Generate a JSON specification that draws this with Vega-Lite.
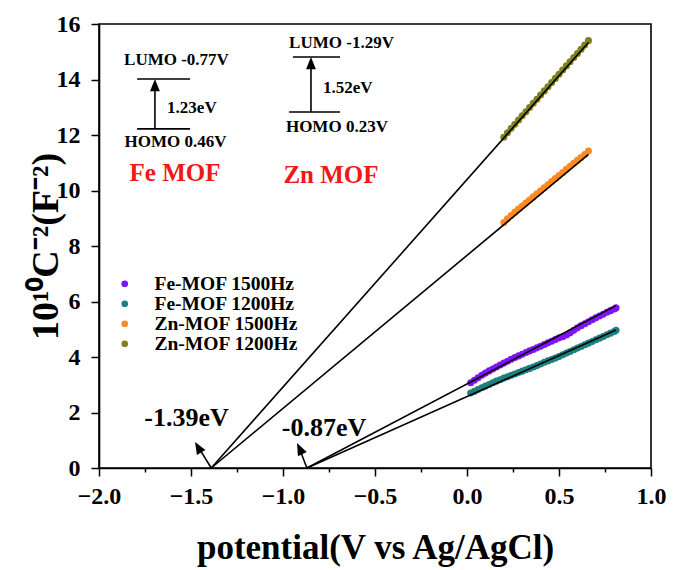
{
  "$schema": "https://vega.github.io/schema/vega-lite/v6.json",
  "width": 552,
  "height": 444,
  "autosize": "none",
  "padding": {"left": 99, "top": 24, "right": 23, "bottom": 102},
  "background": "white",
  "config": {
    "view": {"stroke": "black", "strokeWidth": 1.6},
    "font": "Liberation Serif"
  },
  "datasets": {
    "pts": [
      {"s": "Fe-MOF 1500Hz", "x": 0.02, "y": 3.07}, {"s": "Fe-MOF 1500Hz", "x": 0.04, "y": 3.16}, {"s": "Fe-MOF 1500Hz", "x": 0.06, "y": 3.25}, {"s": "Fe-MOF 1500Hz", "x": 0.08, "y": 3.34}, {"s": "Fe-MOF 1500Hz", "x": 0.10, "y": 3.42},
      {"s": "Fe-MOF 1500Hz", "x": 0.12, "y": 3.50}, {"s": "Fe-MOF 1500Hz", "x": 0.14, "y": 3.57}, {"s": "Fe-MOF 1500Hz", "x": 0.16, "y": 3.64}, {"s": "Fe-MOF 1500Hz", "x": 0.18, "y": 3.71}, {"s": "Fe-MOF 1500Hz", "x": 0.20, "y": 3.78},
      {"s": "Fe-MOF 1500Hz", "x": 0.22, "y": 3.85}, {"s": "Fe-MOF 1500Hz", "x": 0.24, "y": 3.92}, {"s": "Fe-MOF 1500Hz", "x": 0.26, "y": 3.98}, {"s": "Fe-MOF 1500Hz", "x": 0.28, "y": 4.04}, {"s": "Fe-MOF 1500Hz", "x": 0.30, "y": 4.10},
      {"s": "Fe-MOF 1500Hz", "x": 0.32, "y": 4.16}, {"s": "Fe-MOF 1500Hz", "x": 0.34, "y": 4.22}, {"s": "Fe-MOF 1500Hz", "x": 0.36, "y": 4.27}, {"s": "Fe-MOF 1500Hz", "x": 0.38, "y": 4.33}, {"s": "Fe-MOF 1500Hz", "x": 0.40, "y": 4.39},
      {"s": "Fe-MOF 1500Hz", "x": 0.42, "y": 4.45}, {"s": "Fe-MOF 1500Hz", "x": 0.44, "y": 4.51}, {"s": "Fe-MOF 1500Hz", "x": 0.46, "y": 4.57}, {"s": "Fe-MOF 1500Hz", "x": 0.48, "y": 4.63}, {"s": "Fe-MOF 1500Hz", "x": 0.50, "y": 4.69},
      {"s": "Fe-MOF 1500Hz", "x": 0.52, "y": 4.73}, {"s": "Fe-MOF 1500Hz", "x": 0.54, "y": 4.79}, {"s": "Fe-MOF 1500Hz", "x": 0.56, "y": 4.87}, {"s": "Fe-MOF 1500Hz", "x": 0.58, "y": 4.96}, {"s": "Fe-MOF 1500Hz", "x": 0.60, "y": 5.05},
      {"s": "Fe-MOF 1500Hz", "x": 0.62, "y": 5.13}, {"s": "Fe-MOF 1500Hz", "x": 0.64, "y": 5.20}, {"s": "Fe-MOF 1500Hz", "x": 0.66, "y": 5.27}, {"s": "Fe-MOF 1500Hz", "x": 0.68, "y": 5.34}, {"s": "Fe-MOF 1500Hz", "x": 0.70, "y": 5.41},
      {"s": "Fe-MOF 1500Hz", "x": 0.72, "y": 5.48}, {"s": "Fe-MOF 1500Hz", "x": 0.74, "y": 5.54}, {"s": "Fe-MOF 1500Hz", "x": 0.76, "y": 5.61}, {"s": "Fe-MOF 1500Hz", "x": 0.78, "y": 5.67}, {"s": "Fe-MOF 1500Hz", "x": 0.80, "y": 5.73}, {"s": "Fe-MOF 1500Hz", "x": 0.81, "y": 5.77},

      {"s": "Fe-MOF 1200Hz", "x": 0.02, "y": 2.70}, {"s": "Fe-MOF 1200Hz", "x": 0.04, "y": 2.76}, {"s": "Fe-MOF 1200Hz", "x": 0.06, "y": 2.83}, {"s": "Fe-MOF 1200Hz", "x": 0.08, "y": 2.89}, {"s": "Fe-MOF 1200Hz", "x": 0.10, "y": 2.95},
      {"s": "Fe-MOF 1200Hz", "x": 0.12, "y": 3.01}, {"s": "Fe-MOF 1200Hz", "x": 0.14, "y": 3.07}, {"s": "Fe-MOF 1200Hz", "x": 0.16, "y": 3.13}, {"s": "Fe-MOF 1200Hz", "x": 0.18, "y": 3.18}, {"s": "Fe-MOF 1200Hz", "x": 0.20, "y": 3.24},
      {"s": "Fe-MOF 1200Hz", "x": 0.22, "y": 3.29}, {"s": "Fe-MOF 1200Hz", "x": 0.24, "y": 3.34}, {"s": "Fe-MOF 1200Hz", "x": 0.26, "y": 3.39}, {"s": "Fe-MOF 1200Hz", "x": 0.28, "y": 3.44}, {"s": "Fe-MOF 1200Hz", "x": 0.30, "y": 3.49},
      {"s": "Fe-MOF 1200Hz", "x": 0.32, "y": 3.54}, {"s": "Fe-MOF 1200Hz", "x": 0.34, "y": 3.59}, {"s": "Fe-MOF 1200Hz", "x": 0.36, "y": 3.64}, {"s": "Fe-MOF 1200Hz", "x": 0.38, "y": 3.69}, {"s": "Fe-MOF 1200Hz", "x": 0.40, "y": 3.75},
      {"s": "Fe-MOF 1200Hz", "x": 0.42, "y": 3.81}, {"s": "Fe-MOF 1200Hz", "x": 0.44, "y": 3.86}, {"s": "Fe-MOF 1200Hz", "x": 0.46, "y": 3.91}, {"s": "Fe-MOF 1200Hz", "x": 0.48, "y": 3.96}, {"s": "Fe-MOF 1200Hz", "x": 0.50, "y": 4.02},
      {"s": "Fe-MOF 1200Hz", "x": 0.52, "y": 4.08}, {"s": "Fe-MOF 1200Hz", "x": 0.54, "y": 4.14}, {"s": "Fe-MOF 1200Hz", "x": 0.56, "y": 4.20}, {"s": "Fe-MOF 1200Hz", "x": 0.58, "y": 4.26}, {"s": "Fe-MOF 1200Hz", "x": 0.60, "y": 4.32},
      {"s": "Fe-MOF 1200Hz", "x": 0.62, "y": 4.38}, {"s": "Fe-MOF 1200Hz", "x": 0.64, "y": 4.44}, {"s": "Fe-MOF 1200Hz", "x": 0.66, "y": 4.50}, {"s": "Fe-MOF 1200Hz", "x": 0.68, "y": 4.56}, {"s": "Fe-MOF 1200Hz", "x": 0.70, "y": 4.62},
      {"s": "Fe-MOF 1200Hz", "x": 0.72, "y": 4.68}, {"s": "Fe-MOF 1200Hz", "x": 0.74, "y": 4.74}, {"s": "Fe-MOF 1200Hz", "x": 0.76, "y": 4.80}, {"s": "Fe-MOF 1200Hz", "x": 0.78, "y": 4.86}, {"s": "Fe-MOF 1200Hz", "x": 0.80, "y": 4.92}, {"s": "Fe-MOF 1200Hz", "x": 0.81, "y": 4.96},

      {"s": "Zn-MOF 1500Hz", "x": 0.20, "y": 8.85}, {"s": "Zn-MOF 1500Hz", "x": 0.22, "y": 8.98}, {"s": "Zn-MOF 1500Hz", "x": 0.24, "y": 9.10}, {"s": "Zn-MOF 1500Hz", "x": 0.26, "y": 9.22}, {"s": "Zn-MOF 1500Hz", "x": 0.28, "y": 9.33},
      {"s": "Zn-MOF 1500Hz", "x": 0.30, "y": 9.44}, {"s": "Zn-MOF 1500Hz", "x": 0.32, "y": 9.55}, {"s": "Zn-MOF 1500Hz", "x": 0.34, "y": 9.66}, {"s": "Zn-MOF 1500Hz", "x": 0.36, "y": 9.77}, {"s": "Zn-MOF 1500Hz", "x": 0.38, "y": 9.88},
      {"s": "Zn-MOF 1500Hz", "x": 0.40, "y": 9.99}, {"s": "Zn-MOF 1500Hz", "x": 0.42, "y": 10.10}, {"s": "Zn-MOF 1500Hz", "x": 0.44, "y": 10.21}, {"s": "Zn-MOF 1500Hz", "x": 0.46, "y": 10.32}, {"s": "Zn-MOF 1500Hz", "x": 0.48, "y": 10.43},
      {"s": "Zn-MOF 1500Hz", "x": 0.50, "y": 10.54}, {"s": "Zn-MOF 1500Hz", "x": 0.52, "y": 10.65}, {"s": "Zn-MOF 1500Hz", "x": 0.54, "y": 10.76}, {"s": "Zn-MOF 1500Hz", "x": 0.56, "y": 10.87}, {"s": "Zn-MOF 1500Hz", "x": 0.58, "y": 10.98},
      {"s": "Zn-MOF 1500Hz", "x": 0.60, "y": 11.09}, {"s": "Zn-MOF 1500Hz", "x": 0.62, "y": 11.19}, {"s": "Zn-MOF 1500Hz", "x": 0.64, "y": 11.30}, {"s": "Zn-MOF 1500Hz", "x": 0.66, "y": 11.42},

      {"s": "Zn-MOF 1200Hz", "x": 0.20, "y": 11.92}, {"s": "Zn-MOF 1200Hz", "x": 0.22, "y": 12.08}, {"s": "Zn-MOF 1200Hz", "x": 0.24, "y": 12.24}, {"s": "Zn-MOF 1200Hz", "x": 0.26, "y": 12.39}, {"s": "Zn-MOF 1200Hz", "x": 0.28, "y": 12.54},
      {"s": "Zn-MOF 1200Hz", "x": 0.30, "y": 12.69}, {"s": "Zn-MOF 1200Hz", "x": 0.32, "y": 12.84}, {"s": "Zn-MOF 1200Hz", "x": 0.34, "y": 12.99}, {"s": "Zn-MOF 1200Hz", "x": 0.36, "y": 13.14}, {"s": "Zn-MOF 1200Hz", "x": 0.38, "y": 13.29},
      {"s": "Zn-MOF 1200Hz", "x": 0.40, "y": 13.44}, {"s": "Zn-MOF 1200Hz", "x": 0.42, "y": 13.59}, {"s": "Zn-MOF 1200Hz", "x": 0.44, "y": 13.74}, {"s": "Zn-MOF 1200Hz", "x": 0.46, "y": 13.89}, {"s": "Zn-MOF 1200Hz", "x": 0.48, "y": 14.04},
      {"s": "Zn-MOF 1200Hz", "x": 0.50, "y": 14.19}, {"s": "Zn-MOF 1200Hz", "x": 0.52, "y": 14.34}, {"s": "Zn-MOF 1200Hz", "x": 0.54, "y": 14.49}, {"s": "Zn-MOF 1200Hz", "x": 0.56, "y": 14.64}, {"s": "Zn-MOF 1200Hz", "x": 0.58, "y": 14.79},
      {"s": "Zn-MOF 1200Hz", "x": 0.60, "y": 14.94}, {"s": "Zn-MOF 1200Hz", "x": 0.62, "y": 15.09}, {"s": "Zn-MOF 1200Hz", "x": 0.64, "y": 15.24}, {"s": "Zn-MOF 1200Hz", "x": 0.66, "y": 15.40}
    ],
    "segs": [
      {"name": "fit Zn 1200", "x": -1.39, "y": 0, "x2": 0.66, "y2": 15.33},
      {"name": "fit Zn 1500", "x": -1.39, "y": 0, "x2": 0.66, "y2": 11.30},
      {"name": "fit Fe 1500", "x": -0.87, "y": 0, "x2": 0.81, "y2": 5.85},
      {"name": "fit Fe 1200", "x": -0.87, "y": 0, "x2": 0.81, "y2": 4.97},
      {"name": "Fe LUMO", "x": -1.793, "y": 14.02, "x2": -1.505, "y2": 14.02},
      {"name": "Fe HOMO", "x": -1.793, "y": 12.22, "x2": -1.505, "y2": 12.22},
      {"name": "Fe gap", "x": -1.696, "y": 12.22, "x2": -1.696, "y2": 13.7},
      {"name": "Zn LUMO", "x": -0.946, "y": 14.81, "x2": -0.69, "y2": 14.81},
      {"name": "Zn HOMO", "x": -0.967, "y": 12.83, "x2": -0.69, "y2": 12.83},
      {"name": "Zn gap", "x": -0.848, "y": 12.83, "x2": -0.848, "y2": 14.5},
      {"name": "Zn edge", "x": -1.39, "y": 0, "x2": -1.46, "y2": 0.75},
      {"name": "Fe edge", "x": -0.87, "y": 0, "x2": -0.912, "y2": 0.72}
    ],
    "heads": [
      {"name": "Fe gap", "x": -1.696, "y": 14.02},
      {"name": "Zn gap", "x": -0.848, "y": 14.81},
      {"name": "Zn edge", "x": -1.478, "y": 0.94},
      {"name": "Fe edge", "x": -0.924, "y": 0.90}
    ],
    "texts": [
      {"group": "level", "text": "LUMO -0.77V", "x": -1.579, "y": 14.70},
      {"group": "level", "text": "HOMO 0.46V", "x": -1.584, "y": 11.75},
      {"group": "level", "text": "LUMO -1.29V", "x": -0.682, "y": 15.32},
      {"group": "level", "text": "HOMO 0.23V", "x": -0.707, "y": 12.29},
      {"group": "gap", "text": "1.23eV", "x": -1.63, "y": 12.97},
      {"group": "gap", "text": "1.52eV", "x": -0.783, "y": 13.69},
      {"group": "mof", "text": "Fe MOF", "x": -1.587, "y": 10.63},
      {"group": "mof", "text": "Zn MOF", "x": -0.739, "y": 10.56},
      {"group": "edge", "text": "-1.39eV", "x": -1.524, "y": 1.80},
      {"group": "edge", "text": "-0.87eV", "x": -0.777, "y": 1.44}
    ]
  },
  "layer": [
    {
      "data": {"name": "pts"},
      "mark": {"type": "point", "filled": true, "opacity": 1, "size": 50},
      "encoding": {
        "x": {
          "field": "x", "type": "quantitative",
          "scale": {"domain": [-2, 1], "nice": false, "zero": false},
          "axis": {
            "title": "potential(V vs Ag/AgCl)",
            "grid": false,
            "domainColor": "black", "domainWidth": 1.6,
            "tickColor": "black", "tickWidth": 1.5,
            "labelFont": "Liberation Serif", "labelFontWeight": "bold", "labelFontSize": 24, "labelColor": "black",
            "labelOverlap": false, "labelFlush": false,
            "titleFont": "Liberation Serif", "titleFontWeight": "bold", "titleFontSize": 35, "titleColor": "black",
            "values": [-2, -1.75, -1.5, -1.25, -1, -0.75, -0.5, -0.25, 0, 0.25, 0.5, 0.75, 1],
            "format": ".1f",
            "labelExpr": "abs(datum.value*2 - round(datum.value*2)) < 0.001 ? datum.label : ''",
            "tickSize": {"condition": {"test": "abs(datum.value*2 - round(datum.value*2)) < 0.001", "value": 8}, "value": 4},
            "labelPadding": 8,
            "titlePadding": 22
          }
        },
        "y": {
          "field": "y", "type": "quantitative",
          "scale": {"domain": [0, 16], "nice": false, "zero": false},
          "axis": {
            "title": "10¹⁰C⁻²(F⁻²)",
            "grid": false,
            "domainColor": "black", "domainWidth": 1.6,
            "tickColor": "black", "tickWidth": 1.5,
            "labelFont": "Liberation Serif", "labelFontWeight": "bold", "labelFontSize": 24, "labelColor": "black",
            "labelOverlap": false, "labelFlush": false,
            "titleFont": "Liberation Serif", "titleFontWeight": "bold", "titleFontSize": 38, "titleColor": "black",
            "values": [0, 1, 2, 3, 4, 5, 6, 7, 8, 9, 10, 11, 12, 13, 14, 15, 16],
            "format": "d",
            "labelExpr": "datum.value % 2 == 0 ? datum.label : ''",
            "tickSize": {"condition": {"test": "datum.value % 2 == 0", "value": 8}, "value": 4},
            "labelPadding": 11,
            "titlePadding": -9
          }
        },
        "color": {
          "field": "s", "type": "nominal",
          "scale": {
            "domain": ["Fe-MOF 1500Hz", "Fe-MOF 1200Hz", "Zn-MOF 1500Hz", "Zn-MOF 1200Hz"],
            "range": ["#7F14F5", "#1C8080", "#FF8A20", "#80801E"]
          },
          "legend": {
            "title": null, "orient": "none", "legendX": 16, "legendY": 250,
            "labelOffset": 20, "padding": 0, "rowPadding": -1,
            "labelFont": "Liberation Serif", "labelFontWeight": "bold", "labelFontSize": 19.5, "labelColor": "black",
            "symbolType": "circle", "symbolSize": 45, "symbolStrokeWidth": 0
          }
        }
      }
    },
    {
      "data": {"name": "segs"},
      "mark": {"type": "rule", "color": "black", "strokeWidth": 1.6},
      "encoding": {
        "x": {"field": "x", "type": "quantitative"},
        "y": {"field": "y", "type": "quantitative"},
        "x2": {"field": "x2"},
        "y2": {"field": "y2"}
      }
    },
    {
      "data": {"name": "heads"},
      "transform": [{"filter": "datum.name == 'Fe gap' || datum.name == 'Zn gap'"}],
      "mark": {"type": "point", "shape": "M0,0L-0.4,1L0.4,1Z", "filled": true, "color": "black", "opacity": 1, "size": 600, "angle": 0},
      "encoding": {
        "x": {"field": "x", "type": "quantitative"},
        "y": {"field": "y", "type": "quantitative"}
      }
    },
    {
      "data": {"name": "heads"},
      "transform": [{"filter": "datum.name == 'Zn edge'"}],
      "mark": {"type": "point", "shape": "M0,0L-0.4,1L0.4,1Z", "filled": true, "color": "black", "opacity": 1, "size": 600, "angle": -30},
      "encoding": {
        "x": {"field": "x", "type": "quantitative"},
        "y": {"field": "y", "type": "quantitative"}
      }
    },
    {
      "data": {"name": "heads"},
      "transform": [{"filter": "datum.name == 'Fe edge'"}],
      "mark": {"type": "point", "shape": "M0,0L-0.4,1L0.4,1Z", "filled": true, "color": "black", "opacity": 1, "size": 600, "angle": -26},
      "encoding": {
        "x": {"field": "x", "type": "quantitative"},
        "y": {"field": "y", "type": "quantitative"}
      }
    },
    {
      "data": {"name": "texts"},
      "transform": [{"filter": "datum.group == 'level'"}],
      "mark": {"type": "text", "font": "Liberation Serif", "fontWeight": "bold", "fontSize": 17, "color": "black", "align": "center", "baseline": "middle"},
      "encoding": {
        "x": {"field": "x", "type": "quantitative"},
        "y": {"field": "y", "type": "quantitative"},
        "text": {"field": "text"}
      }
    },
    {
      "data": {"name": "texts"},
      "transform": [{"filter": "datum.group == 'gap'"}],
      "mark": {"type": "text", "font": "Liberation Serif", "fontWeight": "bold", "fontSize": 17, "color": "black", "align": "left", "baseline": "middle"},
      "encoding": {
        "x": {"field": "x", "type": "quantitative"},
        "y": {"field": "y", "type": "quantitative"},
        "text": {"field": "text"}
      }
    },
    {
      "data": {"name": "texts"},
      "transform": [{"filter": "datum.group == 'mof'"}],
      "mark": {"type": "text", "font": "Liberation Serif", "fontWeight": "bold", "fontSize": 25, "color": "#F01818", "align": "center", "baseline": "middle"},
      "encoding": {
        "x": {"field": "x", "type": "quantitative"},
        "y": {"field": "y", "type": "quantitative"},
        "text": {"field": "text"}
      }
    },
    {
      "data": {"name": "texts"},
      "transform": [{"filter": "datum.group == 'edge'"}],
      "mark": {"type": "text", "font": "Liberation Serif", "fontWeight": "bold", "fontSize": 26, "color": "black", "align": "center", "baseline": "middle"},
      "encoding": {
        "x": {"field": "x", "type": "quantitative"},
        "y": {"field": "y", "type": "quantitative"},
        "text": {"field": "text"}
      }
    }
  ]
}
